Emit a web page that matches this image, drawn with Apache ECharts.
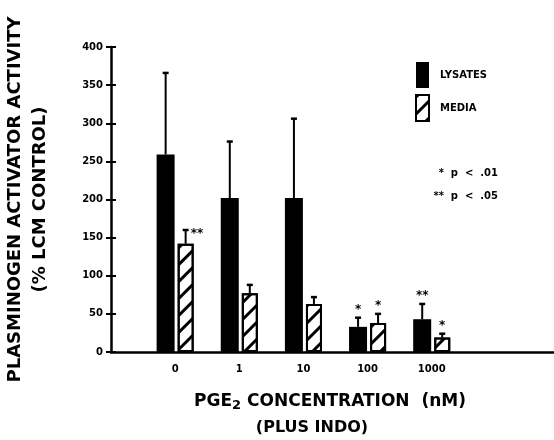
<!DOCTYPE html>
<html>
<head>
<meta charset="utf-8">
<script src="https://cdn.jsdelivr.net/npm/echarts@6/dist/echarts.min.js"></script>
<style>
    html, body { margin: 0; padding: 0; background: #fff; }
    #chart { width: 554px; height: 440px; }
</style>
</head>
<body>
<div id="chart"></div>
<script>
// PGE2 concentration (nM), padded with empty slots so bars sit like the original
const categories = ['', '0', '1', '10', '100', '1000', '', '']
const lysates = [null, 259, 202, 202, 33, 43, null, null]
const lysatesSD = [null, 107, 74, 104, 12, 20, null, null]
const media = [null, 142, 77, 63, 38, 19, null, null]
const mediaSD = [null, 18, 11, 9, 12, 5, null, null]
const lysatesSig = ['', '', '', '', '*', '**', '', '']
const mediaSig = ['', '**', '', '', '*', '*', '', '']

const FONT = 'DejaVu Sans'
const chart = echarts.init(document.getElementById('chart'))

// error bar (upward only) + significance stars, drawn through the axes
function errorSeries(name, values, sd, sig, offset) {
    return {
        name: name + ' SD',
        type: 'custom',
        z: 5,
        data: values.map((v, i) => [i, v, sd[i]]),
        renderItem(params, api) {
            const v = api.value(1)
            if (v == null || isNaN(v)) return
            const i = api.value(0)
            const low = api.coord([i, v])
            const high = api.coord([i, v + api.value(2)])
            const x = low[0] + offset
            const kids = [
                { type: 'line', shape: { x1: x, y1: low[1], x2: x, y2: high[1] }, style: { stroke: '#000', lineWidth: 2 } },
                { type: 'line', shape: { x1: x - 3, y1: high[1], x2: x + 3, y2: high[1] }, style: { stroke: '#000', lineWidth: 2.5 } }
            ]
            const star = sig[i]
            if (star) {
                // tall bars carry their mark beside the cap, short ones above it
                const side = v > 100
                kids.push({
                    type: 'text',
                    style: {
                        text: star,
                        x: side ? x + 5 : x,
                        y: side ? high[1] + 4 : high[1] - 8,
                        align: side ? 'left' : 'center',
                        verticalAlign: 'middle',
                        font: 'bold 12px ' + FONT,
                        fill: '#000'
                    }
                })
            }
            return { type: 'group', children: kids }
        }
    }
}

const option = {
    backgroundColor: '#fff',
    animation: false,
    textStyle: { fontFamily: FONT },
    grid: { left: 111, top: 47, height: 305, width: 449, outerBoundsMode: 'none', containLabel: false },
    legend: {
        orient: 'vertical',
        left: 415,
        top: 62,
        padding: 0,
        itemWidth: 13,
        itemHeight: 26,
        itemGap: 6,
        icon: 'rect',
        textStyle: { fontFamily: FONT, fontWeight: 'bold', fontSize: 10, color: '#000', padding: [0, 0, 0, 6] },
        data: ['LYSATES', 'MEDIA']
    },
    xAxis: {
        type: 'category',
        data: categories,
        boundaryGap: false,
        axisLine: { lineStyle: { color: '#000', width: 2.5 } },
        axisTick: { show: false },
        axisLabel: { color: '#000', fontWeight: 'bold', fontSize: 10, margin: 12, interval: 0 },
        splitLine: { show: false }
    },
    yAxis: [
        {
            type: 'value',
            min: 0,
            max: 400,
            interval: 50,
            name: 'PLASMINOGEN ACTIVATOR ACTIVITY\n(% LCM CONTROL)',
            nameLocation: 'middle',
            nameGap: 58,
            nameTextStyle: { fontFamily: FONT, fontWeight: 'bold', fontSize: 18, color: '#000', lineHeight: 25 },
            axisLine: { show: true, lineStyle: { color: '#000', width: 2.5 } },
            axisTick: { show: true, length: 5, lineStyle: { color: '#000', width: 2 } },
            axisLabel: { color: '#000', fontWeight: 'bold', fontSize: 10, margin: 8 },
            splitLine: { show: false }
        },
        {
            // inner half of the cross ticks
            type: 'value',
            position: 'left',
            min: 0,
            max: 400,
            interval: 50,
            axisLine: { show: false },
            axisTick: { show: true, inside: true, length: 5, lineStyle: { color: '#000', width: 2 } },
            axisLabel: { show: false },
            splitLine: { show: false }
        }
    ],
    series: [
        {
            name: 'LYSATES',
            type: 'bar',
            data: lysates,
            barWidth: 18,
            barGap: '17%',
            itemStyle: { color: '#000' }
        },
        {
            name: 'MEDIA',
            type: 'bar',
            data: media,
            barWidth: 16,
            itemStyle: {
                color: '#fff',
                borderColor: '#000',
                borderWidth: 2,
                decal: {
                    symbol: 'rect',
                    symbolSize: 1,
                    color: '#000',
                    dashArrayX: [1, 0],
                    dashArrayY: [3, 9],
                    rotation: -Math.PI / 4
                }
            }
        },
        errorSeries('LYSATES', lysates, lysatesSD, lysatesSig, -9.5),
        errorSeries('MEDIA', media, mediaSD, mediaSig, 10.5)
    ],
    graphic: [
        {
            type: 'text',
            style: {
                text: 'PGE{sub|2} CONCENTRATION  (nM)',
                x: 330, y: 402,
                align: 'center', verticalAlign: 'middle',
                font: 'bold 17px ' + FONT,
                fill: '#000',
                rich: { sub: { fontSize: 13, fontWeight: 'bold', fontFamily: FONT, padding: [8, 0, 0, 0] } }
            }
        },
        {
            type: 'text',
            style: {
                text: '(PLUS INDO)',
                x: 312, y: 428,
                align: 'center', verticalAlign: 'middle',
                font: 'bold 16px ' + FONT,
                fill: '#000'
            }
        },
        {
            type: 'text',
            style: {
                text: '*  p  <  .01',
                x: 498, y: 173,
                align: 'right', verticalAlign: 'middle',
                font: 'bold 10px ' + FONT,
                fill: '#000'
            }
        },
        {
            type: 'text',
            style: {
                text: '**  p  <  .05',
                x: 498, y: 196,
                align: 'right', verticalAlign: 'middle',
                font: 'bold 10px ' + FONT,
                fill: '#000'
            }
        }
    ]
}

chart.setOption(option)
</script>
</body>
</html>
